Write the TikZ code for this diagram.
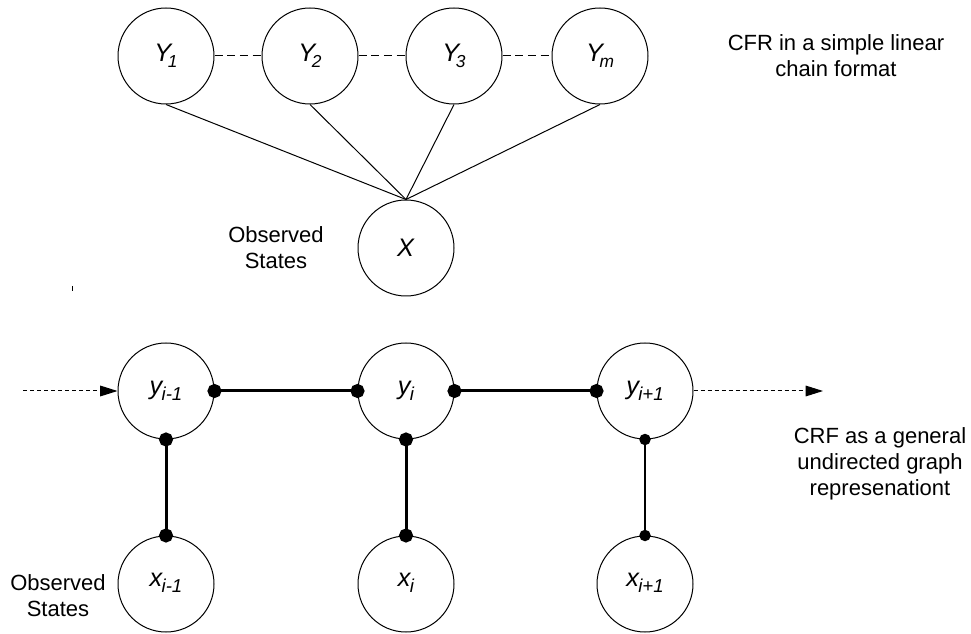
\documentclass[tikz,border=0pt]{standalone}
\usepackage{fontspec}
\setmainfont{Liberation Sans}
\usetikzlibrary{arrows.meta}

% variable with italic subscript
\newcommand{\var}[3][13]{{\itshape #2}\kern-2.5pt\raisebox{-0.45ex}{\fontsize{#1}{#1}\selectfont\itshape #3}}
\newcommand{\low}[3][14]{{\itshape #2}\kern-0.5pt\raisebox{-0.45ex}{\fontsize{#1}{#1}\selectfont\itshape #3}}

\tikzset{
  state/.style={circle, draw, line width=0.75pt, minimum size=72pt, inner sep=0pt, font=\fontsize{19}{19}\selectfont},
  note/.style={align=center, font=\fontsize{16.5}{19.5}\selectfont},
  chain/.style={line width=0.75pt, dash pattern=on 6pt off 3.5pt},
  factor/.style={line width=0.75pt},
  link/.style={line width=2.25pt, {Circle[length=10.5pt]}-{Circle[length=10.5pt]}, shorten <=-5.25pt, shorten >=-5.25pt},
  thinlink/.style={line width=1.5pt, {Circle[length=8.5pt]}-{Circle[length=8.5pt]}, shorten <=-4.25pt, shorten >=-4.25pt},
  flow/.style={line width=0.75pt, dash pattern=on 3pt off 2.25pt, -{Triangle[length=13pt,width=8pt]}},
}

\begin{document}
\begin{tikzpicture}[x=0.75pt, y=-0.75pt]
  \useasboundingbox (0,0) rectangle (971,634);

  % linear chain
  \node[state] (Y1) at (166,56) {\var{Y}{1}};
  \node[state] (Y2) at (310,56) {\var{Y}{2}};
  \node[state] (Y3) at (454,56) {\var{Y}{3}};
  \node[state] (Ym) at (600,56) {\var{Y}{m}};
  \node[state] (X) at (406,248) {\textit{X}};
  \draw[chain] (Y1) -- (Y2);
  \draw[chain] (Y2) -- (Y3);
  \draw[chain] (Y3) -- (Ym);
  \foreach \n in {Y1,Y2,Y3,Ym}
    \draw[factor] (\n.south) -- (X.north);
  \node[note] (obs1) at (276,248) {Observed\\States};
  \node[note] (cap1) at (836,56) {CFR in a simple linear\\chain format};
  \draw[line width=0.75pt] (72,286) -- (72,291);

  % general graph
  \tikzset{every node/.append style={font=\fontsize{20}{20}\selectfont}}
  \node[state] (ya) at (166,391) {\raisebox{5pt}{\low{y}{i-1}}};
  \node[state] (yb) at (406,391) {\raisebox{5pt}{\low{y}{i}}};
  \node[state] (yc) at (645,391) {\raisebox{5pt}{\low{y}{i+1}}};
  \node[state] (xa) at (166,584) {\raisebox{7pt}{\low{x}{i-1}}};
  \node[state] (xb) at (406,584) {\raisebox{7pt}{\low{x}{i}}};
  \node[state] (xc) at (645,584) {\raisebox{7pt}{\low{x}{i+1}}};
  \coordinate (in) at (23,391);
  \coordinate (out) at (823,391);
  \draw[flow] (in) -- (ya.west);
  \draw[flow] (yc.east) -- (out);
  \draw[link] (ya.east) -- (yb.west);
  \draw[link] (yb.east) -- (yc.west);
  \draw[link] (ya.south) -- (xa.north);
  \draw[link] (yb.south) -- (xb.north);
  \draw[thinlink] (yc.south) -- (xc.north);
  \node[note] (obs2) at (58,596) {Observed\\States};
  \node[note] (cap2) at (880,464) {CRF as a general\\undirected graph\\represenationt};
\end{tikzpicture}
\end{document}
